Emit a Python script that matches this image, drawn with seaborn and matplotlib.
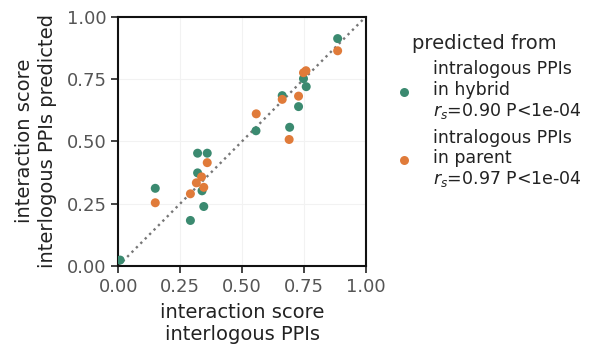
import numpy as np
import pandas as pd
import seaborn as sns
import matplotlib.pyplot as plt

# observed vs predicted interaction scores
hybrid_x = [0.007, 0.149, 0.291, 0.320, 0.359, 0.320, 0.338, 0.345, 0.556, 0.662, 0.692, 0.728, 0.748, 0.759, 0.886]
hybrid_y = [0.023, 0.311, 0.182, 0.452, 0.452, 0.373, 0.301, 0.238, 0.542, 0.683, 0.556, 0.639, 0.751, 0.719, 0.912]
parent_x = [0.149, 0.291, 0.315, 0.336, 0.345, 0.359, 0.557, 0.662, 0.690, 0.728, 0.748, 0.758, 0.886]
parent_y = [0.253, 0.289, 0.333, 0.357, 0.315, 0.414, 0.610, 0.668, 0.507, 0.681, 0.775, 0.783, 0.863]

lab_hybrid = "intralogous PPIs\nin hybrid\n$r_s$=0.90 P<1e-04"
lab_parent = "intralogous PPIs\nin parent\n$r_s$=0.97 P<1e-04"

df = pd.concat([
    pd.DataFrame({"x": hybrid_x, "y": hybrid_y, "src": lab_hybrid}),
    pd.DataFrame({"x": parent_x, "y": parent_y, "src": lab_parent}),
])

sns.set_theme(style="ticks", font="DejaVu Sans")

fig = plt.figure(figsize=(5.92, 3.47), dpi=100)
ax = fig.add_axes([0.2, 0.234, 0.418, 0.718])

ax.grid(True, color="#f2f2f2", linewidth=0.8)
ax.plot([0, 1], [0, 1], ls=":", color="#777777", lw=1.7, zorder=1)
sns.scatterplot(
    data=df, x="x", y="y", hue="src",
    palette=["#3b8a70", "#e07b3a"],
    s=42, edgecolor="none", ax=ax, zorder=3,
)

ax.set_xlim(0, 1)
ax.set_ylim(0, 1)
ticks = [0, 0.25, 0.5, 0.75, 1.0]
ax.set_xticks(ticks)
ax.set_yticks(ticks)
ax.set_xticklabels([f"{t:.2f}" for t in ticks])
ax.set_yticklabels([f"{t:.2f}" for t in ticks])
ax.tick_params(labelsize=13, labelcolor="#555555", length=5, width=1.2, color="#222222")
for sp in ax.spines.values():
    sp.set_linewidth(1.5)
    sp.set_color("#111111")
ax.set_xlabel("interaction score\ninterlogous PPIs", fontsize=14, color="#222222",
              linespacing=1.2, labelpad=5)
ax.set_ylabel("interaction score\ninterlogous PPIs predicted", fontsize=14, color="#222222",
              linespacing=1.25, labelpad=7)

leg = ax.legend(title="predicted from", loc="center left", bbox_to_anchor=(1.02, 0.62),
                frameon=False, fontsize=12.5, title_fontsize=14, handletextpad=0.7,
                labelspacing=0.45, markerscale=1.0)
for t in leg.get_texts():
    t.set_color("#222222")
    t.set_linespacing(1.15)

plt.savefig("out.png", dpi=100)
